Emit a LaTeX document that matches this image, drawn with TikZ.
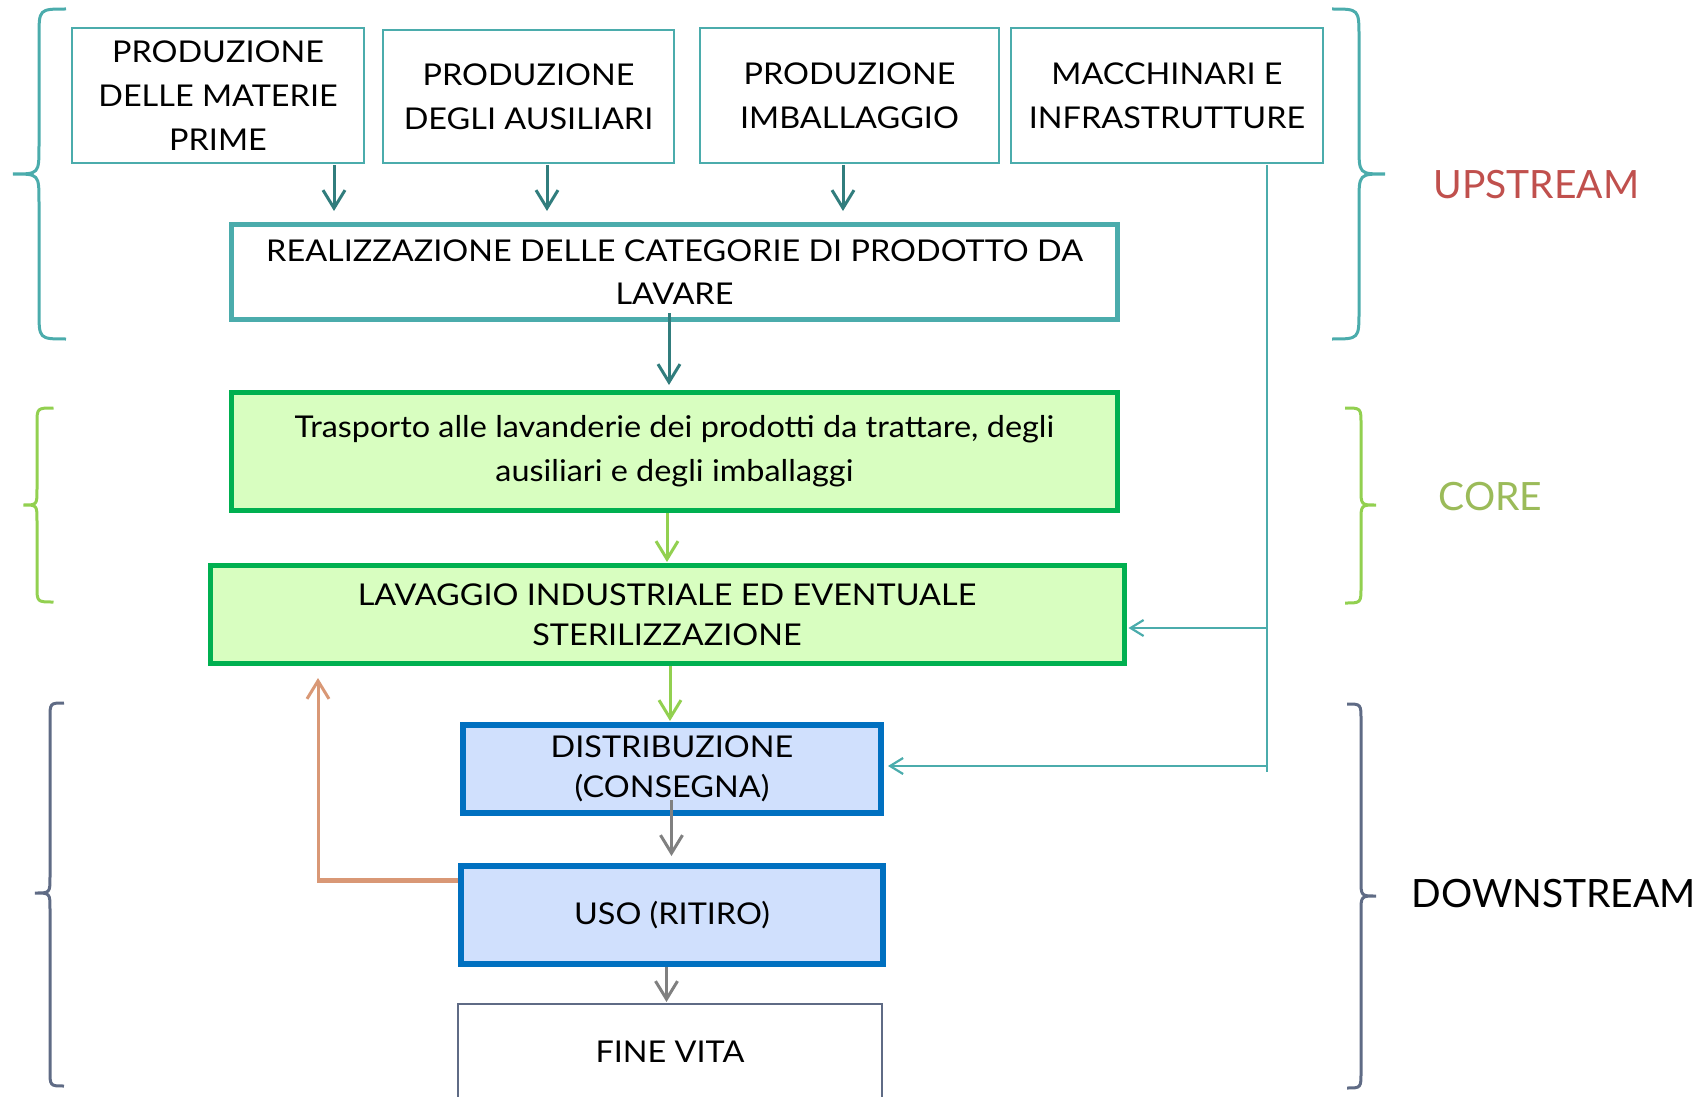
\documentclass[tikz,border=0pt]{standalone}
\usepackage{fontspec}
\setmainfont{Lato}
\newfontfamily\boxfont{Lato}[FakeStretch=1.08]
\usetikzlibrary{arrows.meta,calc}
\definecolor{teal1}{RGB}{75,172,172}
\definecolor{tealdark}{RGB}{49,125,125}
\definecolor{gbord}{RGB}{0,176,80}
\definecolor{gfill}{RGB}{216,254,192}
\definecolor{lgreen}{RGB}{146,208,80}
\definecolor{bbord}{RGB}{0,112,192}
\definecolor{bfill}{RGB}{208,224,253}
\definecolor{orng}{RGB}{217,152,118}
\definecolor{greyar}{RGB}{128,128,128}
\definecolor{slate}{RGB}{95,107,133}
\definecolor{upred}{RGB}{192,80,77}
\definecolor{coreg}{RGB}{155,187,89}
\newcommand{\mybrace}[8]{%
  \draw[#1] (#2,#5) .. controls (#3,#5) .. (#3,#5+#8) -- (#3,#6-#8)
    .. controls (#3,#6) .. (#4,#6) .. controls (#3,#6) .. (#3,#6+#8)
    -- (#3,#7-#8) .. controls (#3,#7) .. (#2,#7);}
\begin{document}
\begin{tikzpicture}[x=1pt,y=-1pt,
  box/.style={draw, align=center, inner sep=0pt, text=black,
    font=\boxfont\fontsize{30}{44}\selectfont},
  topbox/.style={box, draw=teal1, line width=2pt},
  realbox/.style={box, draw=teal1, line width=5pt, font=\boxfont\fontsize{30}{43}\selectfont},
  greenbox/.style={box, draw=gbord, fill=gfill, line width=5pt},
  bluebox/.style={box, draw=bbord, fill=bfill, line width=6pt, font=\boxfont\fontsize{30}{40}\selectfont},
  finebox/.style={box, draw=slate, line width=2pt},
  tarr/.style={draw=tealdark, line width=3pt, -{Straight Barb[length=18pt,width=22pt]}},
  garr/.style={draw=lgreen, line width=3pt, -{Straight Barb[length=18pt,width=22pt]}},
  grarr/.style={draw=greyar, line width=3pt, -{Straight Barb[length=18pt,width=22pt]}},
  tline/.style={draw=teal1, line width=2.2pt},
  tlarr/.style={tline, -{Straight Barb[length=13pt,width=16pt]}},
  oarr/.style={draw=orng, line width=3pt, -{Straight Barb[length=18pt,width=22pt]}},
  bracestyle/.style={line width=3pt},
  side/.style={anchor=base west, font=\fontsize{39}{39}\selectfont}
]
\useasboundingbox (0,0) rectangle (1701,1097);

% upstream boxes
\node[topbox, minimum width=292pt, minimum height=135pt] (b1) at (218,95.5)
  {PRODUZIONE\\DELLE MATERIE\\PRIME};
\node[topbox, minimum width=291pt, minimum height=133pt] (b2) at (528.5,96.5)
  {PRODUZIONE\\DEGLI AUSILIARI};
\node[topbox, minimum width=299pt, minimum height=135pt] (b3) at (849.5,95.5)
  {PRODUZIONE\\IMBALLAGGIO};
\node[topbox, minimum width=312pt, minimum height=135pt] (b4) at (1167,95.5)
  {MACCHINARI E\\INFRASTRUTTURE};
\node[realbox, minimum width=886pt, minimum height=95pt] (real) at (674.5,272)
  {REALIZZAZIONE DELLE CATEGORIE DI PRODOTTO DA\\LAVARE};

% core
\node[greenbox, minimum width=886pt, minimum height=118pt] (trasp) at (674.5,451.5)
  {Trasporto alle lavanderie dei prodotti da trattare, degli\\ausiliari e degli imballaggi};
\node[greenbox, minimum width=914pt, minimum height=98pt,
  font=\boxfont\fontsize{30}{40}\selectfont] (lav) at (667,614.5)
  {LAVAGGIO INDUSTRIALE ED EVENTUALE\\STERILIZZAZIONE};

% downstream
\node[bluebox, minimum width=418pt, minimum height=88pt] (distr) at (672,769)
  {DISTRIBUZIONE\\(CONSEGNA)};
\node[bluebox, minimum width=422pt, minimum height=98pt] (uso) at (672,915)
  {USO (RITIRO)};
\node[finebox, minimum width=424pt, minimum height=96pt] (fine) at (670,1052)
  {FINE VITA};

% side labels
\node[side, text=upred] (up) at (1430,199) {UPSTREAM};
\node[side, text=coreg] (core) at (1435,510) {CORE};
\node[side, text=black] (down) at (1408,907) {DOWNSTREAM};

% braces
\mybrace{bracestyle, teal1}{66}{39}{13}{9}{174}{339}{28}
\mybrace{bracestyle, teal1}{1332}{1359}{1385}{9}{174}{339}{28}
\mybrace{bracestyle, lgreen}{53.5}{37}{23.5}{408}{505}{602}{16}
\mybrace{bracestyle, lgreen}{1345}{1361}{1376}{408}{505}{603}{16}
\mybrace{bracestyle, slate}{64}{50}{35}{703}{893}{1086}{16}
\mybrace{bracestyle, slate}{1347}{1361}{1376}{704}{896}{1088}{16}

% arrows from upstream boxes
\coordinate (a1) at ($(b1.south)+(116,1)$);
\coordinate (a2) at ($(b2.south)+(18.5,1)$);
\coordinate (a3) at ($(b3.south)+(-6.5,1)$);
\draw[tarr, shorten >=11pt] (a1) -- (a1 |- real.north);
\draw[tarr, shorten >=11pt] (a2) -- (a2 |- real.north);
\draw[tarr, shorten >=11pt] (a3) -- (a3 |- real.north);

\coordinate (a4) at ($(real.south)+(-5.5,-9)$);
\draw[tarr, shorten >=5pt] (a4) -- (a4 |- trasp.north);

\coordinate (a5) at ($(trasp.south)+(-7.5,0)$);
\draw[garr, shorten >=1pt] (a5) -- (a5 |- lav.north);
\coordinate (a6) at ($(lav.south)+(3,0)$);
\draw[garr, shorten >=1pt] (a6) -- (a6 |- distr.north);

\coordinate (a7) at ($(distr.south)+(-0.5,-16)$);
\draw[grarr, shorten >=7pt] (a7) -- (a7 |- uso.north);
\coordinate (a8) at ($(uso.south)+(-5.5,0)$);
\draw[grarr, shorten >=1pt] (a8) -- (a8 |- fine.north);

% teal feed from machinery
\coordinate (v0) at ($(b4.south)+(100,1)$);
\coordinate (vend) at (1267,772);
\draw[tline] (v0) -- (vend);
\coordinate (j1) at (1267,628);
\coordinate (j2) at (1267,766);
\draw[tlarr, shorten >=2pt] (j1) -- (j1 -| lav.east);
\draw[tlarr, shorten >=4pt] (j2) -- (j2 -| distr.east);

% orange return
\coordinate (o0) at ($(uso.west)+(0,-35)$);
\coordinate (oc) at (318,880);
\draw[draw=orng, line width=5pt] (o0) -- ($(oc)+(-1.5,0)$);
\draw[oarr, shorten >=12pt] ($(oc)+(0,2.5)$) -- (oc |- lav.south);
\end{tikzpicture}
\end{document}
